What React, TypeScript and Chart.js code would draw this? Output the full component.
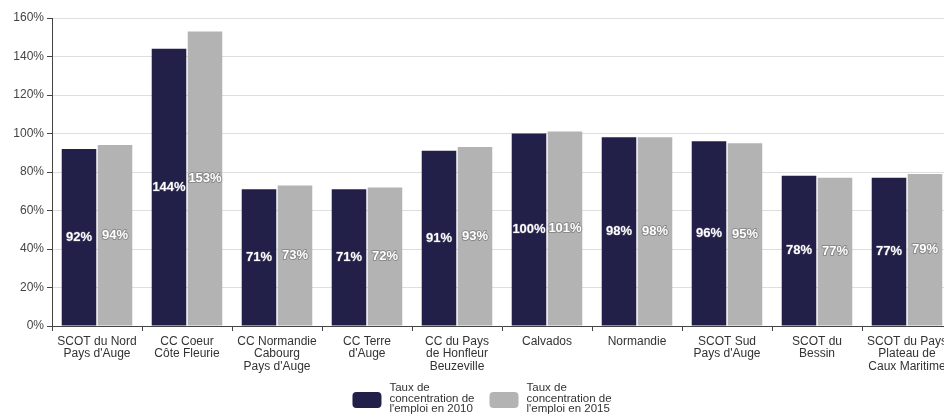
import React, { useEffect, useRef } from "react";
import { Chart, registerables } from "chart.js";

Chart.register(...registerables);

// Territories compared (multi-line labels)
const territories: (string | string[])[] = [
  ["SCOT du Nord", "Pays d'Auge"],
  ["CC Coeur", "Côte Fleurie"],
  ["CC Normandie", "Cabourg", "Pays d'Auge"],
  ["CC Terre", "d'Auge"],
  ["CC du Pays", "de Honfleur", "Beuzeville"],
  "Calvados",
  "Normandie",
  ["SCOT Sud", "Pays d'Auge"],
  ["SCOT du", "Bessin"],
  ["SCOT du Pays", "Plateau de", "Caux Maritime"],
];

// Employment concentration rate (%)
const rate2010 = [92, 144, 71, 71, 91, 100, 98, 96, 78, 77];
const rate2015 = [94, 153, 73, 72, 93, 101, 98, 95, 77, 79];

const seriesLabels = [
  ["Taux de", "concentration de", "l'emploi en 2010"],
  ["Taux de", "concentration de", "l'emploi en 2015"],
];

const DARK = "#221f48";
const GREY = "#b3b3b3";
const FONT = "'Liberation Sans', Arial, sans-serif";

// Value labels centred inside each bar
const valueLabels = {
  id: "valueLabels",
  afterDatasetsDraw(chart: any) {
    const ctx = chart.ctx;
    ctx.save();
    ctx.font = `bold 13px ${FONT}`;
    ctx.textAlign = "center";
    ctx.textBaseline = "middle";
    chart.data.datasets.forEach((ds: any, di: number) => {
      const meta = chart.getDatasetMeta(di);
      meta.data.forEach((el: any, i: number) => {
        const txt = `${ds.data[i]}%`;
        const x = el.x;
        const y = (el.y + el.base) / 2;
        ctx.lineJoin = "round";
        if (di === 1) {
          ctx.lineWidth = 2;
          ctx.strokeStyle = "#8a8a8a";
          ctx.strokeText(txt, x, y);
        } else {
          ctx.lineWidth = 1;
          ctx.strokeStyle = "rgba(120,120,140,0.6)";
          ctx.strokeText(txt, x, y);
        }
        ctx.fillStyle = "#ffffff";
        ctx.fillText(txt, x, y);
      });
    });
    ctx.restore();
  },
};

// Legend with wrapped labels at the bottom
const bottomLegend = {
  id: "bottomLegend",
  afterDraw(chart: any) {
    const ctx = chart.ctx;
    ctx.save();
    ctx.font = `11.5px ${FONT}`;
    const boxW = 29;
    const boxH = 16;
    const gapText = 8;
    const gapItems = 15;
    const colors = [DARK, GREY];
    const widths = seriesLabels.map(
      (lines) => boxW + gapText + Math.max(...lines.map((l) => ctx.measureText(l).width))
    );
    const total = widths[0] + gapItems + widths[1];
    let x = chart.width / 2 - total / 2 + 3;
    const cy = 400;
    const lh = 10.5;
    seriesLabels.forEach((lines, i) => {
      ctx.fillStyle = colors[i];
      ctx.beginPath();
      (ctx as any).roundRect(x, cy - boxH / 2, boxW, boxH, 4);
      ctx.fill();
      ctx.fillStyle = "#333333";
      ctx.textAlign = "left";
      ctx.textBaseline = "middle";
      lines.forEach((l, j) => {
        ctx.fillText(l, x + boxW + gapText, cy - 12 + j * lh);
      });
      x += widths[i] + gapItems;
    });
    ctx.restore();
  },
};

export default function App() {
  const canvasRef = useRef<HTMLCanvasElement | null>(null);

  useEffect(() => {
    if (!canvasRef.current) return;
    const chart = new Chart(canvasRef.current, {
      type: "bar",
      data: {
        labels: territories,
        datasets: [
          {
            label: seriesLabels[0].join(" "),
            data: rate2010,
            backgroundColor: DARK,
            categoryPercentage: 0.8,
            barPercentage: 0.96,
          },
          {
            label: seriesLabels[1].join(" "),
            data: rate2015,
            backgroundColor: GREY,
            categoryPercentage: 0.8,
            barPercentage: 0.96,
          },
        ],
      },
      options: {
        responsive: false,
        animation: false,
        devicePixelRatio: 1,
        layout: { padding: { top: 18, right: 6, left: 0, bottom: 39 } },
        plugins: {
          legend: { display: false },
          tooltip: { enabled: false },
        },
        scales: {
          x: {
            grid: {
              display: true,
              drawOnChartArea: false,
              drawTicks: true,
              tickLength: 5,
              tickColor: "#444444",
              offset: true,
            },
            border: { display: true, color: "#444444", width: 1 },
            ticks: {
              color: "#333333",
              font: { family: FONT, size: 12, lineHeight: 1.06 },
              maxRotation: 0,
              autoSkip: false,
              padding: 4,
            },
            afterFit(scale: any) {
              scale.height = 52;
            },
          },
          y: {
            min: 0,
            max: 160,
            ticks: {
              stepSize: 20,
              color: "#444444",
              font: { family: FONT, size: 12 },
              padding: 3,
              callback: (v: any) => `${v}%`,
            },
            grid: {
              color: "#dedede",
              tickColor: "#444444",
              tickLength: 5,
            },
            border: { display: true, color: "#444444", width: 1 },
            afterFit(scale: any) {
              scale.width = 52;
            },
          },
        },
      },
      plugins: [valueLabels, bottomLegend],
    });
    return () => chart.destroy();
  }, []);

  return (
    <div
      style={{
        position: "fixed",
        left: 0,
        top: 0,
        width: 944,
        height: 417,
        overflow: "hidden",
        background: "#ffffff",
      }}
    >
      <canvas ref={canvasRef} width={958} height={417} style={{ width: 958, height: 417, display: "block" }} />
    </div>
  );
}
